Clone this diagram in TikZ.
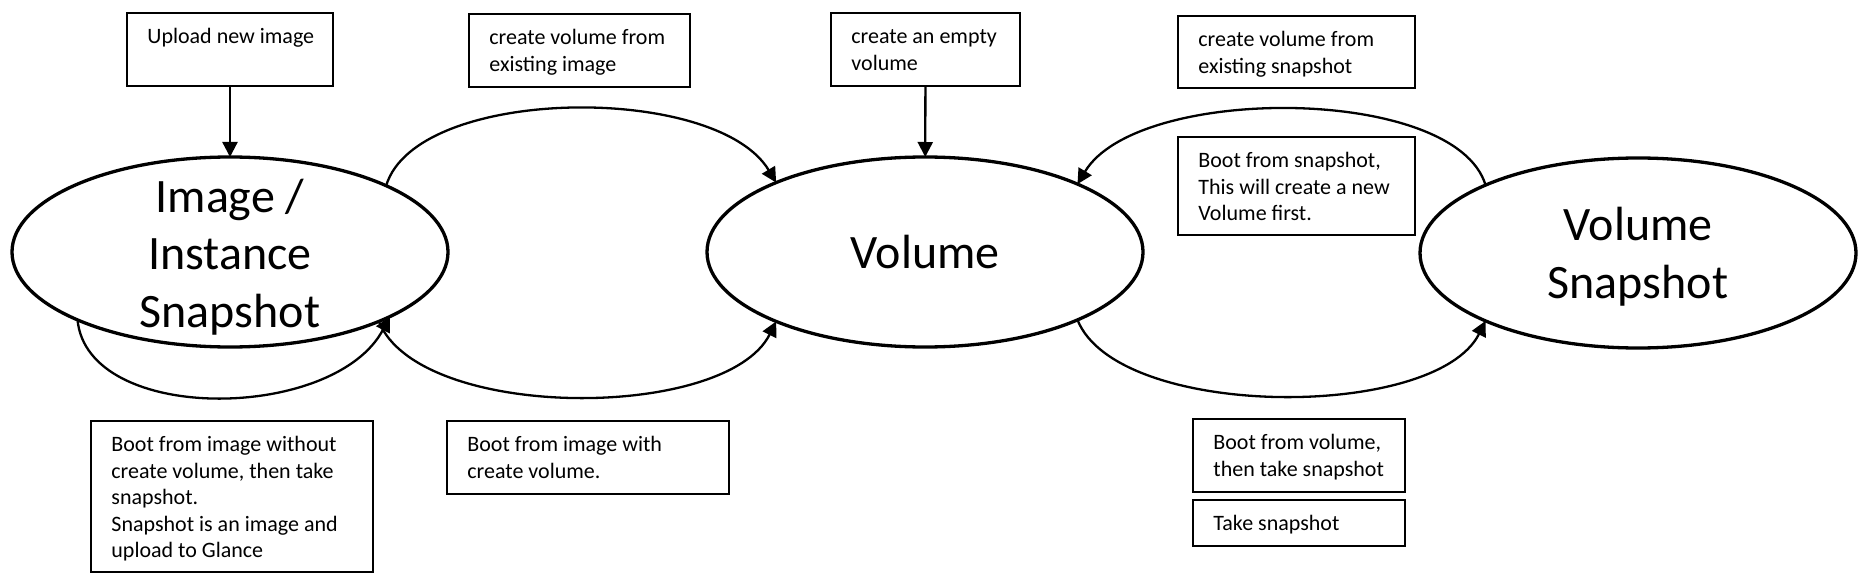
\documentclass[tikz,border=0pt]{standalone}
\usepackage{fontspec}
\setmainfont{Carlito}
\usetikzlibrary{shapes.geometric,arrows.meta}
\begin{document}
\begin{tikzpicture}[x=0.5pt,y=0.5pt,
 ell/.style={ellipse,draw,line width=1.65pt,minimum width=218pt,minimum height=95pt,inner sep=0pt,outer sep=0pt},
 big/.style={align=center,font=\fontsize{24}{28.8}\selectfont,inner sep=0pt},
 frame/.style={draw,line width=1.35pt,anchor=north west,inner sep=0pt,outer sep=0pt},
 txt/.style={anchor=north west,align=left,inner sep=0pt,font=\fontsize{11}{13.3}\selectfont,xshift=10pt,yshift=-5.7pt},
 arr/.style={line width=1.15pt,-{Triangle[length=7.5pt,width=7.5pt]}},
 ]
\useasboundingbox (0,0) rectangle (1866,-588);
% ellipses
\node[ell] (e1) at (230,-252) {};
\node[big,yshift=-2.5pt] (e1t) at (e1.center) {Image /\\Instance\\Snapshot};
\node[ell] (e2) at (925,-252) {};
\node[big] (e2t) at (e2.center) {Volume};
\node[ell] (e3) at (1638,-253) {};
\node[big,yshift=-2pt] (e3t) at (e3.center) {Volume\\Snapshot};
% boxes
\node[frame,minimum width=103pt,minimum height=36.5pt] (b1) at (127,-13) {};
\node[txt] (t1) at (b1.north west) {\strut Upload new image};
\node[frame,minimum width=110.5pt,minimum height=36.5pt] (b2) at (469,-14) {};
\node[txt] (t2) at (b2.north west) {\strut create volume from\\existing image};
\node[frame,minimum width=94.5pt,minimum height=36.5pt] (b3) at (831,-13) {};
\node[txt] (t3) at (b3.north west) {\strut create an empty\\volume};
\node[frame,minimum width=118.5pt,minimum height=36pt] (b4) at (1178,-16) {};
\node[txt] (t4) at (b4.north west) {\strut create volume from\\existing snapshot};
\node[frame,minimum width=118.5pt,minimum height=49pt] (b5) at (1178,-137) {};
\node[txt] (t5) at (b5.north west) {\strut Boot from snapshot,\\This will create a new\\Volume first.};
\node[frame,minimum width=141pt,minimum height=75.5pt] (b6) at (91,-421) {};
\node[txt] (t6) at (b6.north west) {\strut Boot from image without\\create volume, then take\\snapshot.\\Snapshot is an image and\\upload to Glance};
\node[frame,minimum width=141pt,minimum height=36.5pt] (b7) at (447,-421) {};
\node[txt] (t7) at (b7.north west) {\strut Boot from image with\\create volume.};
\node[frame,minimum width=106pt,minimum height=36.5pt] (b8) at (1193,-419) {};
\node[txt] (t8) at (b8.north west) {\strut Boot from volume,\\then take snapshot};
\node[frame,minimum width=106pt,minimum height=23pt] (b9) at (1193,-500) {};
\node[txt] (t9) at (b9.north west) {\strut Take snapshot};
% arrows
\draw[arr] (b1) -- (e1);
\draw[arr] (b3) -- (e2);
\draw[arr] (e1.23) .. controls +(30,100) and +(-60,100) .. (e2.155);
\draw[arr] (e3.156) .. controls +(-30,100) and +(60,100) .. (e2.24);
\draw[arr] (e1.204) .. controls +(10,-105) and +(-55,-105) .. (e1.-22);
\draw[arr] (e1.-25) .. controls +(40,-100) and +(-50,-100) .. (e2.-155);
\draw[arr] (e2.-24) .. controls +(40,-100) and +(-50,-100) .. (e3.-156);
\end{tikzpicture}
\end{document}
